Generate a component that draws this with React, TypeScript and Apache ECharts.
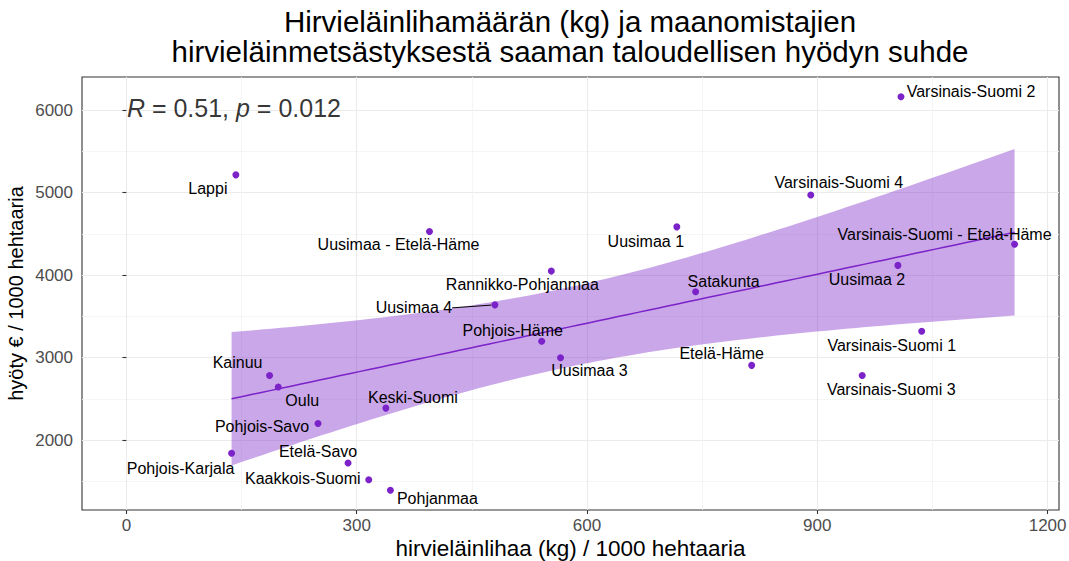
import React, { useEffect, useRef } from "react";
import * as echarts from "echarts";

// ---- data ----
const regions = [
  "Lappi", "Uusimaa - Etelä-Häme", "Kainuu", "Oulu", "Pohjois-Savo", "Pohjois-Karjala",
  "Keski-Suomi", "Etelä-Savo", "Kaakkois-Suomi", "Pohjanmaa", "Varsinais-Suomi 2",
  "Varsinais-Suomi 4", "Uusimaa 1", "Varsinais-Suomi - Etelä-Häme", "Uusimaa 2",
  "Rannikko-Pohjanmaa", "Satakunta", "Uusimaa 4", "Pohjois-Häme", "Uusimaa 3",
  "Etelä-Häme", "Varsinais-Suomi 1", "Varsinais-Suomi 3",
];
const meatKg = [
  142.6, 394.8, 186.5, 197.8, 249.6, 137, 338, 288.7, 315.7, 343.9, 1009,
  891.5, 717, 1157, 1005, 553.5, 741.5, 480, 541, 565.5, 814.5, 1036, 958.5,
];
const benefitEur = [
  5215, 4528, 2785, 2644, 2202, 1842, 2389, 1725, 1522, 1393, 6162,
  4971, 4585, 4374, 4118, 4049, 3798, 3640, 3198, 3000, 2907, 3320, 2785,
];
// label offsets (px) from point centre to label centre (repelled labels)
const labelDx = [-28, -31, -32, 24, -56, -51, 27, -30, -66, 47, 70, 28, -31, -70, -31, -29, 28, -81, -29, 29, -30, -30, 29];
const labelDy = [14, 13, -13, 13, 3, 15, -11, -11, -1, 8, -5, -12, 15, -10, 14, 13, -10, 3, -11, 13, -12, 14, 14];
const connectorNames = ["Uusimaa 4"];

const xTicks = [0, 300, 600, 900, 1200];
const xMinorTicks = [150, 450, 750, 1050];
const yTicks = [2000, 3000, 4000, 5000, 6000];
const yMinorTicks = [1500, 2500, 3500, 4500, 5500];

const corR = "0.51";
const corP = "0.012";
const corLabelAt = [0, 6030];

const titleLines = [
  "Hirvieläinlihamäärän (kg) ja maanomistajien",
  "hirvieläinmetsästyksestä saaman taloudellisen hyödyn suhde",
];
const xTitle = "hirvieläinlihaa (kg) / 1000 hehtaaria";
const yTitle = "hyöty € / 1000 hehtaaria";
const tCrit = 2.0796; // t quantile 0.975, df = 21

const PURPLE = "#7B22C8";
const FONT = "'Liberation Sans', Arial, sans-serif";

function buildFit() {
  const n = meatKg.length;
  const mx = meatKg.reduce((a, b) => a + b, 0) / n;
  const my = benefitEur.reduce((a, b) => a + b, 0) / n;
  let sxx = 0, sxy = 0;
  for (let i = 0; i < n; i++) {
    sxx += (meatKg[i] - mx) ** 2;
    sxy += (meatKg[i] - mx) * (benefitEur[i] - my);
  }
  const b = sxy / sxx;
  const a = my - b * mx;
  let sse = 0;
  for (let i = 0; i < n; i++) sse += (benefitEur[i] - (a + b * meatKg[i])) ** 2;
  const s = Math.sqrt(sse / (n - 2));
  const lo = Math.min(...meatKg), hi = Math.max(...meatKg);
  const band: number[][] = [];
  const steps = 80;
  for (let k = 0; k < steps; k++) {
    const x = lo + ((hi - lo) * k) / (steps - 1);
    const fit = a + b * x;
    const se = s * Math.sqrt(1 / n + (x - mx) ** 2 / sxx);
    band.push([x, fit - tCrit * se, fit + tCrit * se, fit]);
  }
  return band;
}

export default function App() {
  const ref = useRef<HTMLDivElement>(null);
  useEffect(() => {
    if (!ref.current) return;
    const chart = echarts.init(ref.current, undefined, { renderer: "svg" });
    const band = buildFit();

    const xLo = Math.min(0, ...meatKg), xHi = Math.max(...meatKg);
    const xPad = 0.05 * (xHi - xLo);
    const yLo = Math.min(...benefitEur), yHi = Math.max(...benefitEur);
    const yPad = 0.05 * (yHi - yLo);
    const xMin = xLo - xPad, xMax = xHi + xPad;
    const yMin = yLo - yPad, yMax = yHi + yPad;

    const scatterData = regions.map((name, i) => ({
      name,
      value: [meatKg[i], benefitEur[i]],
      labelLine: connectorNames.includes(name)
        ? { show: true, lineStyle: { color: "#000", width: 1 } }
        : { show: false },
    }));

    const minorLine = { show: true, lineStyle: { color: "#F2F2F2", width: 0.8 } };
    const majorLine = { show: true, lineStyle: { color: "#EBEBEB", width: 1.1 } };
    const plain = (v: number) => String(v);

    chart.setOption({
      animation: false,
      backgroundColor: "#fff",
      textStyle: { fontFamily: FONT },
      graphic: [
        {
          type: "text",
          x: 570,
          y: 6,
          style: {
            text: titleLines.join("\n"),
            align: "center",
            verticalAlign: "top",
            textAlign: "center",
            textVerticalAlign: "top",
            fontSize: 29.5,
            lineHeight: 30,
            fontFamily: FONT,
            fill: "#000",
          },
        },
      ],
      grid: {
        left: 82,
        right: 10,
        top: 77,
        bottom: 51,
        containLabel: false,
        outerBoundsMode: "none",
        show: true,
        borderColor: "#333",
        borderWidth: 1.1,
        backgroundColor: "#fff",
      },
      xAxis: [
        {
          type: "value",
          min: xMin,
          max: xMax,
          splitNumber: 4,
          axisLine: { show: false },
          axisTick: { show: true, length: 4, lineStyle: { color: "#333", width: 1.1 }, customValues: xTicks },
          axisLabel: { customValues: xTicks, formatter: plain, color: "#4D4D4D", fontSize: 17, margin: 7, fontFamily: FONT },
          splitLine: majorLine,
          name: xTitle,
          nameLocation: "middle",
          nameGap: 26,
          nameMoveOverlap: false,
          nameTextStyle: { fontSize: 22.5, lineHeight: 24, color: "#000", fontFamily: FONT },
        },
        {
          type: "value",
          min: xMin,
          max: xMax,
          splitNumber: 4,
          axisLine: { show: false },
          axisTick: { show: false, customValues: xMinorTicks },
          axisLabel: { show: false, customValues: xMinorTicks },
          splitLine: minorLine,
        },
      ],
      yAxis: [
        {
          type: "value",
          min: yMin,
          max: yMax,
          splitNumber: 4,
          axisLine: { show: false },
          axisTick: { show: true, length: 4, lineStyle: { color: "#333", width: 1.1 }, customValues: yTicks },
          axisLabel: { customValues: yTicks, formatter: plain, color: "#4D4D4D", fontSize: 17, margin: 9, fontFamily: FONT },
          splitLine: majorLine,
          name: yTitle,
          nameLocation: "middle",
          nameGap: 56,
          nameMoveOverlap: false,
          nameTextStyle: { fontSize: 20, color: "#000", fontFamily: FONT },
        },
        {
          type: "value",
          min: yMin,
          max: yMax,
          splitNumber: 4,
          axisLine: { show: false },
          axisTick: { show: false, customValues: yMinorTicks },
          axisLabel: { show: false, customValues: yMinorTicks },
          splitLine: minorLine,
        },
      ],
      series: [
        {
          type: "custom",
          xAxisIndex: 0,
          yAxisIndex: 0,
          silent: true,
          z: 2,
          data: [[band[0][0], band[0][3]]],
          renderItem: (_params: any, api: any) => {
            const upper = band.map((b) => api.coord([b[0], b[2]]));
            const lower = band.map((b) => api.coord([b[0], b[1]])).reverse();
            return {
              type: "polygon",
              shape: { points: upper.concat(lower) },
              style: { fill: "rgba(123,34,200,0.4)" },
            };
          },
        },
        {
          type: "line",
          xAxisIndex: 0,
          yAxisIndex: 0,
          z: 3,
          silent: true,
          symbol: "none",
          data: band.map((b) => [b[0], b[3]]),
          lineStyle: { color: PURPLE, width: 1.5 },
        },
        {
          type: "scatter",
          xAxisIndex: 0,
          yAxisIndex: 0,
          z: 4,
          symbolSize: 7,
          itemStyle: { color: PURPLE, opacity: 1 },
          data: scatterData,
          label: {
            show: true,
            position: "inside",
            formatter: "{b}",
            color: "#000",
            fontSize: 16,
            fontFamily: FONT,
          },
          labelLine: { show: false },
          labelLayout: (params: any) => ({
            dx: labelDx[params.dataIndex],
            dy: labelDy[params.dataIndex],
          }),
        },
        {
          type: "scatter",
          xAxisIndex: 0,
          yAxisIndex: 0,
          z: 5,
          silent: true,
          symbolSize: 1,
          itemStyle: { color: "rgba(0,0,0,0)" },
          data: [corLabelAt],
          label: {
            show: true,
            position: "right",
            distance: 0,
            formatter: `{i|R} = ${corR}, {i|p} = ${corP}`,
            color: "#000",
            fontSize: 25,
            fontFamily: FONT,
            rich: {
              i: { fontStyle: "italic", fontSize: 25, color: "#000", fontFamily: FONT },
            },
          },
        },
      ],
    });
    return () => chart.dispose();
  }, []);

  return (
    <div
      ref={ref}
      style={{ position: "absolute", left: 0, top: 0, width: 1069, height: 561 }}
    />
  );
}
